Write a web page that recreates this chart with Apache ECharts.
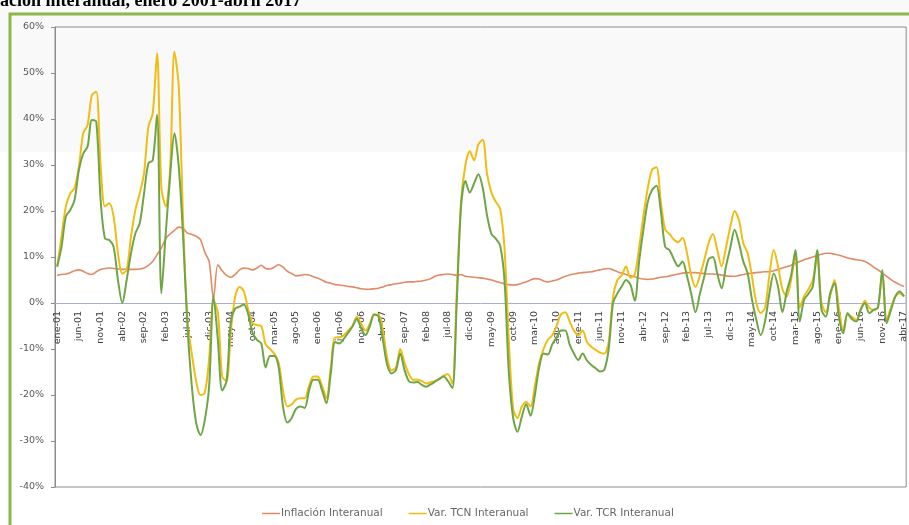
<!DOCTYPE html>
<html>
<head>
<meta charset="utf-8">
<script src="https://cdn.jsdelivr.net/npm/echarts@6/dist/echarts.min.js"></script>
<style>
  html, body { margin: 0; padding: 0; background: #fff; }
  #chart { width: 909px; height: 525px; }
</style>
</head>
<body>
<div id="chart"></div>
<script>
// meses ene-01 .. abr-17
const monthNames = ['ene', 'feb', 'mar', 'abr', 'may', 'jun', 'jul', 'ago', 'sep', 'oct', 'nov', 'dic']
const categories = []
for (let y = 1; y <= 17; y++) {
  for (let m = 0; m < 12; m++) {
    if (y === 17 && m > 3) break
    categories.push(monthNames[m] + '-' + String(y).padStart(2, '0'))
  }
}

const yTicks = [-40, -30, -20, -10, 0, 10, 20, 30, 40, 50, 60]

// Inflación interanual (%)
const inflacion = [
  6.0, 6.2, 6.3, 6.6, 7.0, 7.2, 6.9, 6.4, 6.2, 6.8, 7.3, 7.5,
  7.6, 7.5, 7.4, 7.3, 7.4, 7.3, 7.3, 7.4, 7.6, 8.2, 9.0, 10.5,
  12.0, 14.0, 15.0, 15.8, 16.5, 16.2, 15.2, 14.9, 14.5, 13.8, 11.0, 9.0,
  1.0, 8.3, 7.0, 6.0, 5.6, 6.2, 7.2, 7.6, 7.5, 7.2, 7.6, 8.2,
  7.5, 7.4, 7.8, 8.3, 7.8, 6.9, 6.4, 5.9, 6.0, 6.2, 6.1, 5.7,
  5.4, 5.0, 4.5, 4.3, 4.0, 3.9, 3.8, 3.6, 3.5, 3.3, 3.1, 3.0,
  3.0, 3.1, 3.2, 3.5, 3.8, 4.0, 4.2, 4.3, 4.5, 4.6, 4.6, 4.7,
  4.8, 5.0, 5.3, 5.8, 6.1, 6.2, 6.3, 6.2, 6.0, 6.2, 5.8, 5.7,
  5.6, 5.5, 5.4, 5.2, 5.0, 4.7, 4.4, 4.2, 4.0, 3.9, 4.0, 4.3,
  4.6, 5.0, 5.3, 5.2, 4.8, 4.6, 4.8, 5.0, 5.4, 5.8, 6.1, 6.3,
  6.5, 6.6, 6.7, 6.8, 7.0, 7.2, 7.4, 7.5, 7.2, 6.8, 6.5, 6.2,
  5.9, 5.7, 5.4, 5.2, 5.1, 5.2, 5.4, 5.6, 5.7, 5.9, 6.1, 6.3,
  6.5, 6.6, 6.6, 6.6, 6.5, 6.4, 6.3, 6.3, 6.2, 6.1, 5.9, 5.8,
  5.8, 6.0, 6.2, 6.4, 6.5, 6.6, 6.7, 6.8, 6.8, 7.0, 7.3, 7.6,
  7.9, 8.2, 8.6, 9.0, 9.4, 9.7, 10.0, 10.3, 10.6, 10.8, 10.8, 10.6,
  10.4, 10.1, 9.8, 9.6, 9.4, 9.3, 9.0, 8.5, 7.8, 7.2, 6.5, 5.8,
  5.1, 4.5, 4.0, 3.6
]

// Var. TCN interanual (%)
const varTCN = [
  7.9, 14.4, 21.0, 23.8, 25.0, 29.6, 36.9, 38.7, 45.2, 45.9, 30.0, 21.0,
  21.7, 18.8, 10.8, 6.4, 7.2, 14.4, 20.2, 23.8, 28.2, 38.3, 41.2, 54.3,
  25.0, 21.0, 29.0, 54.6, 47.0, 18.0, -4.0, -11.0, -17.0, -20.0, -19.5, -12.0,
  0.5, -2.0, -16.0, -17.0, -6.0, 1.5, 3.5, 2.5, -1.5, -4.4, -4.8, -5.0,
  -9.0, -10.0, -11.0, -13.0, -19.0, -22.5, -22.0, -21.0, -20.7, -20.7, -18.0, -16.0,
  -16.0, -18.0, -20.7, -14.0, -7.5, -7.5, -7.0, -6.0, -5.0, -3.0, -4.5, -6.0,
  -4.5, -2.5, -2.5, -6.0, -12.0, -14.6, -14.0, -10.0, -13.0, -15.5, -16.7, -16.7,
  -17.0, -17.5, -17.2, -17.0, -16.5, -15.8, -15.5, -17.5, 2.0, 22.0, 30.0, 33.0,
  31.0, 34.5, 35.5, 28.0, 24.0, 22.0, 20.5, 12.0, -8.0, -23.0, -25.0, -22.5,
  -21.5, -22.5, -18.0, -13.0, -10.0, -8.0, -7.0, -5.0, -2.5, -2.0, -4.0, -6.0,
  -7.0, -6.0, -8.5, -9.5, -10.2, -10.8, -11.0, -8.5, 1.4, 5.0, 6.0, 8.0,
  5.5, 6.2, 12.0, 19.0, 25.0, 29.0, 29.5, 22.0, 16.0, 15.0, 13.8, 13.2,
  14.2, 11.0, 6.0, 3.5, 6.0, 9.3, 13.0, 15.0, 11.5, 8.0, 12.0, 16.5,
  20.0, 18.0, 13.0, 10.8, 5.7, 0.0, -2.2, -1.0, 6.0, 11.5, 8.0, 3.0,
  1.4, 5.0, 10.5, -1.0, 1.5, 3.0, 5.0, 10.0, 0.0, -2.0, 1.5, 5.0,
  -1.0, -6.0, -2.5, -3.0, -3.7, -1.5, 0.5, -1.0, -1.5, -1.0, 6.5, -3.7,
  -1.0, 1.4, 2.1, 1.4
]

// Var. TCR interanual (%)
const varTCR = [
  7.9, 12.2, 18.8, 20.2, 22.4, 28.9, 32.5, 34.0, 39.8, 39.4, 22.4, 14.0,
  13.7, 12.2, 5.0, 0.0, 5.0, 10.8, 15.1, 17.3, 23.8, 30.4, 31.0, 40.9,
  2.1, 15.1, 27.5, 36.9, 29.6, 14.4, -5.0, -18.0, -26.0, -28.7, -25.4, -18.0,
  1.5, -8.0, -19.0, -17.0, -4.0, -1.2, -0.8, -0.3, -2.5, -6.5, -8.0, -8.8,
  -14.0, -11.5, -11.5, -14.0, -22.5, -26.0, -25.0, -23.0, -22.5, -22.8, -19.0, -16.7,
  -16.7, -19.0, -21.8, -15.3, -8.5, -8.8, -7.8, -6.5, -5.1, -3.5, -5.5, -7.0,
  -5.0, -2.5, -3.0, -8.0, -13.5, -15.3, -14.6, -11.0, -14.6, -17.0, -17.3, -17.2,
  -17.8, -18.2, -17.7, -17.1, -16.5, -16.0, -17.0, -18.5, 0.0, 21.0, 26.5, 24.0,
  26.0, 28.0, 25.0, 19.0, 15.0, 14.0, 12.5, 5.0, -15.0, -25.0, -28.0, -24.7,
  -22.0, -24.5, -20.0, -14.0, -11.0, -11.2, -9.0, -7.5, -6.0, -6.0, -9.0, -11.0,
  -12.4, -11.0, -12.5, -13.5, -14.2, -14.9, -14.5, -10.0, 0.0, 2.1, 3.6, 5.0,
  4.0, 0.5, 9.0, 16.0, 22.0, 24.6, 25.5, 20.0, 12.2, 11.5, 9.5, 8.0,
  9.0, 6.0, 2.0, -2.0, 2.0, 5.7, 9.5, 10.0, 6.4, 3.2, 7.9, 12.0,
  15.9, 13.0, 9.0, 6.4, 0.7, -3.7, -7.0, -4.0, 2.0, 6.4, 3.5, -2.0,
  2.5, 6.0, 11.5, -4.0, 0.7, 2.0, 3.6, 11.5, -1.5, -3.0, 2.1, 4.3,
  -3.0, -6.6, -2.2, -3.5, -4.0, -1.5, 0.0, -2.2, -1.5, -1.0, 7.2, -4.4,
  -1.5, 1.4, 2.5, 1.4
]

const chart = echarts.init(document.getElementById('chart'))
const labelFont = '"DejaVu Sans", "Liberation Sans", sans-serif'

// el eje de categorías va sobre la línea del 0%: lo subimos desde el borde inferior
const gridTop = 27
const gridBottom = 38
const plotHeight = 525 - gridTop - gridBottom
const zeroOffset = -plotHeight * (0 - yTicks[0]) / (yTicks[yTicks.length - 1] - yTicks[0])

const option = {
  backgroundColor: '#ffffff',
  animation: false,
  graphic: [
    // fondo gris muy claro de la parte superior
    { type: 'rect', z: -10, silent: true, shape: { x: 0, y: 0, width: 909, height: 152 }, style: { fill: '#f9f9f9' } },
    // marco verde
    { type: 'rect', z: 10, silent: true, shape: { x: 10, y: 14, width: 940, height: 560 }, style: { fill: 'none', stroke: '#8db64c', lineWidth: 3 } },
    // título recortado
    {
      type: 'text', left: 0, top: -8, silent: true,
      style: {
        text: 'ación interanual, enero 2001-abril 2017',
        fontFamily: '"Liberation Serif", "DejaVu Serif", serif',
        fontWeight: 'bold', fontSize: 18, fill: '#000'
      }
    }
  ],
  grid: {
    left: 55, right: 2, top: gridTop, bottom: gridBottom,
    show: true, borderColor: '#8c8c8c', borderWidth: 1, backgroundColor: 'transparent'
  },
  legend: {
    top: 503, left: 257, itemGap: 26, itemWidth: 18, itemHeight: 1.5,
    icon: 'rect',
    textStyle: { fontFamily: labelFont, fontSize: 10.5, color: '#666666', padding: [0, 0, 0, -4] },
    data: ['Inflación Interanual', 'Var. TCN Interanual', 'Var. TCR Interanual']
  },
  xAxis: {
    type: 'category',
    data: categories,
    boundaryGap: true,
    position: 'bottom',
    offset: zeroOffset,
    axisLine: { onZero: false, lineStyle: { color: '#a9aed6', width: 1 } },
    axisTick: { interval: 4, alignWithLabel: true, length: 4, lineStyle: { color: '#a9aed6' } },
    axisLabel: {
      interval: 4, rotate: 90, margin: 8,
      fontFamily: labelFont, fontSize: 9.5, color: '#404040'
    },
    splitLine: { show: false }
  },
  yAxis: {
    type: 'value',
    min: yTicks[0], max: yTicks[yTicks.length - 1], interval: 10,
    axisLine: { show: true, lineStyle: { color: '#8c8c8c' } },
    axisTick: { show: true, length: 4, lineStyle: { color: '#8c8c8c' } },
    axisLabel: {
      formatter: '{value}%', margin: 11,
      fontFamily: labelFont, fontSize: 9.5, color: '#595959'
    },
    splitLine: { show: false }
  },
  series: [
    {
      name: 'Inflación Interanual', type: 'line', data: inflacion,
      symbol: 'none', smooth: 0.3,
      lineStyle: { color: '#e08a66', width: 1.6 }, itemStyle: { color: '#e08a66' }
    },
    {
      name: 'Var. TCN Interanual', type: 'line', data: varTCN,
      symbol: 'none', smooth: 0.3,
      lineStyle: { color: '#f0bd14', width: 2 }, itemStyle: { color: '#f0bd14' }
    },
    {
      name: 'Var. TCR Interanual', type: 'line', data: varTCR,
      symbol: 'none', smooth: 0.3,
      lineStyle: { color: '#6fa546', width: 2 }, itemStyle: { color: '#6fa546' }
    }
  ]
}

chart.setOption(option)
</script>
</body>
</html>
